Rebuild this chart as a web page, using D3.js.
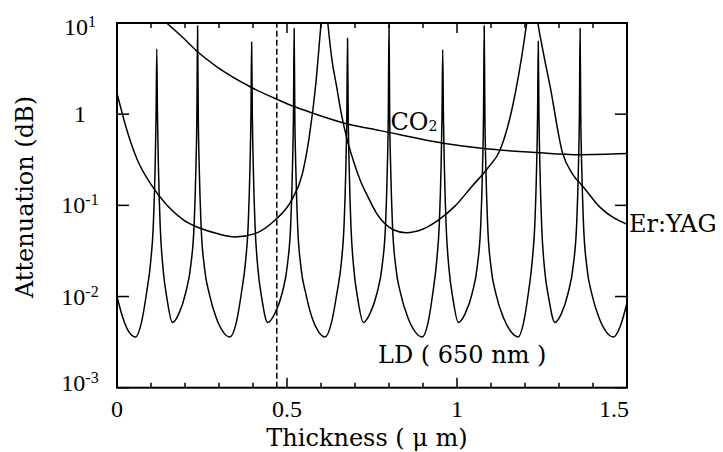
<!DOCTYPE html>
<html>
<head>
<meta charset="utf-8">
<script src="https://cdn.jsdelivr.net/npm/d3@7/dist/d3.min.js"></script>
<style>
body { margin: 0; background: #fff; }
svg { display: block; }
</style>
</head>
<body>
<svg id="chart" width="723" height="452"></svg>
<script>
// axis values
var x_labels = [[0, "0"], [0.5, "0.5"], [1, "1"], [1.5, "1.5"]];
var y_decades = [[1e-3, "-3"], [1e-2, "-2"], [1e-1, "-1"], [1, null], [10, "1"]];
var cut_thickness = 0.47;

// LD (650 nm), thickness (um) vs attenuation (dB)
var ld_points = [
    [0, 0.010], [0.015, 0.0062], [0.035, 0.0041], [0.055, 0.0036],
    [0.072, 0.0052], [0.087, 0.011], [0.099, 0.024], [0.107, 0.063], [0.112, 0.25], [0.115, 1.0], [0.117, 5.2],
    [0.119, 1.0], [0.122, 0.25], [0.127, 0.06], [0.135, 0.021], [0.147, 0.0095], [0.163, 0.0052],
    [0.182, 0.0065], [0.202, 0.011], [0.217, 0.022], [0.227, 0.063], [0.232, 0.25], [0.235, 1.0], [0.237, 9.3],
    [0.239, 1.0], [0.242, 0.25], [0.247, 0.063], [0.257, 0.021], [0.272, 0.0105], [0.292, 0.0058], [0.312, 0.0041], [0.332, 0.0036],
    [0.351, 0.0052], [0.366, 0.011], [0.378, 0.024], [0.386, 0.063], [0.391, 0.25], [0.394, 1.0], [0.396, 6.2],
    [0.398, 1.0], [0.401, 0.25], [0.406, 0.06], [0.414, 0.021], [0.426, 0.0095], [0.443, 0.0052],
    [0.464, 0.0065], [0.486, 0.011], [0.501, 0.022], [0.511, 0.063], [0.516, 0.25], [0.519, 1.0], [0.521, 8.7],
    [0.523, 1.0], [0.526, 0.25], [0.531, 0.063], [0.541, 0.021], [0.556, 0.0105], [0.574, 0.0058], [0.593, 0.0041], [0.612, 0.0036],
    [0.631, 0.0052], [0.647, 0.011], [0.660, 0.024], [0.668, 0.063], [0.673, 0.25], [0.676, 1.0], [0.678, 6.8],
    [0.680, 1.0], [0.683, 0.25], [0.688, 0.06], [0.696, 0.021], [0.708, 0.0095], [0.7245, 0.0052],
    [0.744, 0.0065], [0.765, 0.011], [0.780, 0.022], [0.790, 0.063], [0.795, 0.25], [0.798, 1.0], [0.800, 9.5],
    [0.802, 1.0], [0.805, 0.25], [0.810, 0.063], [0.820, 0.021], [0.835, 0.0105], [0.856, 0.0058], [0.877, 0.0041], [0.898, 0.0036],
    [0.915, 0.0052], [0.929, 0.011], [0.940, 0.024], [0.948, 0.063], [0.953, 0.25], [0.956, 1.0], [0.958, 5.1],
    [0.960, 1.0], [0.963, 0.25], [0.968, 0.06], [0.976, 0.021], [0.988, 0.0095], [1.004, 0.0052],
    [1.024, 0.0065], [1.045, 0.011], [1.060, 0.022], [1.070, 0.063], [1.075, 0.25], [1.078, 1.0], [1.080, 9.3],
    [1.082, 1.0], [1.085, 0.25], [1.090, 0.063], [1.100, 0.021], [1.115, 0.0105], [1.137, 0.0058], [1.159, 0.0041], [1.180, 0.0036],
    [1.196, 0.0052], [1.210, 0.011], [1.221, 0.024], [1.229, 0.063], [1.234, 0.25], [1.237, 1.0], [1.239, 6.3],
    [1.241, 1.0], [1.244, 0.25], [1.249, 0.06], [1.257, 0.021], [1.270, 0.0095], [1.288, 0.0052],
    [1.307, 0.0065], [1.327, 0.011], [1.342, 0.022], [1.352, 0.063], [1.357, 0.25], [1.360, 1.0], [1.362, 8.7],
    [1.364, 1.0], [1.367, 0.25], [1.372, 0.063], [1.382, 0.021], [1.397, 0.0105], [1.418, 0.0058], [1.439, 0.0041], [1.460, 0.0036],
    [1.480, 0.0047], [1.500, 0.0085]
];

// Er:YAG
var eryag_points = [
    [0, 1.7], [0.029, 0.67], [0.059, 0.32], [0.098, 0.174], [0.147, 0.10], [0.196, 0.069],
    [0.245, 0.056], [0.294, 0.049], [0.347, 0.045], [0.406, 0.049], [0.465, 0.069], [0.514, 0.115],
    [0.545, 0.22], [0.565, 0.55], [0.585, 2.2], [0.598, 8], [0.610, 25], [0.620, 10], [0.632, 4.0],
    [0.646, 2.0], [0.660, 1.0], [0.675, 0.56], [0.695, 0.31], [0.715, 0.19], [0.740, 0.12],
    [0.764, 0.081], [0.813, 0.054], [0.850, 0.050], [0.900, 0.055], [0.945, 0.069], [0.994, 0.098],
    [1.043, 0.16], [1.092, 0.26], [1.126, 0.40], [1.150, 0.75], [1.170, 1.6], [1.190, 4.2],
    [1.205, 10], [1.222, 30], [1.238, 10], [1.255, 4.5], [1.274, 2.0], [1.310, 0.38], [1.340, 0.22],
    [1.371, 0.16], [1.421, 0.095], [1.500, 0.062]
];

// CO2
var co2_points = [
    [0.146, 10], [0.196, 6.8], [0.238, 4.8], [0.294, 3.3], [0.396, 1.96], [0.470, 1.46],
    [0.519, 1.22], [0.578, 1.02], [0.678, 0.78], [0.774, 0.66], [0.960, 0.48], [1.078, 0.42],
    [1.234, 0.38], [1.362, 0.36], [1.500, 0.37]
];

var plotL = 117, plotR = 627, plotT = 23, plotB = 387.7;
var svg = d3.select("#chart");

var x = d3.scaleLinear().domain([0, 1.5]).range([plotL, plotR]);
var y = d3.scaleLog().domain([1e-3, 10]).range([plotB, plotT]);

svg.append("defs").append("clipPath").attr("id", "plot-clip")
    .append("rect")
        .attr("x", plotL).attr("y", plotT)
        .attr("width", plotR - plotL).attr("height", plotB - plotT);

var line = d3.line()
    .x(function(d) { return x(d[0]); })
    .y(function(d) { return y(d[1]); })
    .curve(d3.curveMonotoneX);

var plot = svg.append("g").attr("clip-path", "url(#plot-clip)");

[ld_points, eryag_points, co2_points].forEach(function(pts) {
    plot.append("path")
        .datum(pts)
        .attr("d", line)
        .attr("fill", "none")
        .attr("stroke", "#000")
        .attr("stroke-width", 1.5)
        .attr("stroke-linejoin", "round");
});

// dashed marker
svg.append("line")
    .attr("x1", x(cut_thickness)).attr("x2", x(cut_thickness))
    .attr("y1", y(1e-3)).attr("y2", y(10))
    .attr("stroke", "#000")
    .attr("stroke-width", 1.5)
    .attr("stroke-dasharray", "6,3");

// frame
svg.append("rect")
    .attr("x", plotL).attr("y", plotT)
    .attr("width", plotR - plotL).attr("height", plotB - plotT)
    .attr("fill", "none")
    .attr("stroke", "#000")
    .attr("stroke-width", 2);

// x ticks, bottom and top, pointing inward
var xt = x.ticks(15);
var tickLen = function(d) { return (Math.abs(d * 2 - Math.round(d * 2)) < 1e-6) ? 10 : 5; };
svg.selectAll(".xtick-b").data(xt).enter().append("line")
    .attr("x1", x).attr("x2", x)
    .attr("y1", plotB).attr("y2", function(d) { return plotB - tickLen(d); })
    .attr("stroke", "#000").attr("stroke-width", 1.5);
svg.selectAll(".xtick-t").data(xt).enter().append("line")
    .attr("x1", x).attr("x2", x)
    .attr("y1", plotT).attr("y2", function(d) { return plotT + tickLen(d); })
    .attr("stroke", "#000").attr("stroke-width", 1.5);

// y ticks, left and right
svg.selectAll(".ytick-l").data(y_decades).enter().append("line")
    .attr("x1", plotL).attr("x2", plotL + 12)
    .attr("y1", function(d) { return y(d[0]); }).attr("y2", function(d) { return y(d[0]); })
    .attr("stroke", "#000").attr("stroke-width", 1.5);
svg.selectAll(".ytick-r").data(y_decades).enter().append("line")
    .attr("x1", plotR).attr("x2", plotR - 12)
    .attr("y1", function(d) { return y(d[0]); }).attr("y2", function(d) { return y(d[0]); })
    .attr("stroke", "#000").attr("stroke-width", 1.5);

// tick labels
var numFont = "'Liberation Serif', 'Times New Roman', serif";
var txtFont = "'DejaVu Serif', serif";

svg.selectAll(".xlab").data(x_labels).enter().append("text")
    .attr("x", function(d, i) { return i == x_labels.length - 1 ? x(d[0]) + 2 : x(d[0]); })
    .attr("y", 417)
    .attr("text-anchor", function(d, i) { return i == x_labels.length - 1 ? "end" : "middle"; })
    .attr("font-family", numFont)
    .attr("font-size", 24)
    .text(function(d) { return d[1]; });

svg.selectAll(".ylab").data(y_decades).enter().append("text")
    .attr("x", 80)
    .attr("y", function(d) {
        var c = Math.max(27, Math.min(382.5, y(d[0])));
        return c + 8;
    })
    .attr("text-anchor", "middle")
    .attr("font-family", numFont)
    .attr("font-size", 24)
    .each(function(d) {
        var t = d3.select(this);
        if (d[1] === null) {
            t.text("1");
        } else {
            t.append("tspan").text("10");
            t.append("tspan").attr("dy", -8).attr("font-size", 16).text(d[1]);
        }
    });

// axis titles
svg.append("text")
    .attr("transform", "translate(33,197) rotate(-90)")
    .attr("text-anchor", "middle")
    .attr("font-family", txtFont)
    .attr("font-size", 24)
    .text("Attenuation (dB)");

svg.append("text")
    .attr("x", 367).attr("y", 446)
    .attr("text-anchor", "middle")
    .attr("font-family", txtFont)
    .attr("font-size", 24)
    .text("Thickness ( \u03bc m)");

// curve labels
var co2 = svg.append("text")
    .attr("x", 390.5).attr("y", 130)
    .attr("font-family", txtFont)
    .attr("font-size", 24);
co2.append("tspan").text("CO");
co2.append("tspan").attr("dy", 1).attr("font-size", 14).text("2");

svg.append("text")
    .attr("x", 629).attr("y", 231.7)
    .attr("font-family", txtFont)
    .attr("font-size", 24)
    .text("Er:YAG");

svg.append("text")
    .attr("x", 378).attr("y", 363.3)
    .attr("font-family", txtFont)
    .attr("font-size", 24)
    .text("LD ( 650 nm )");
</script>
</body>
</html>
